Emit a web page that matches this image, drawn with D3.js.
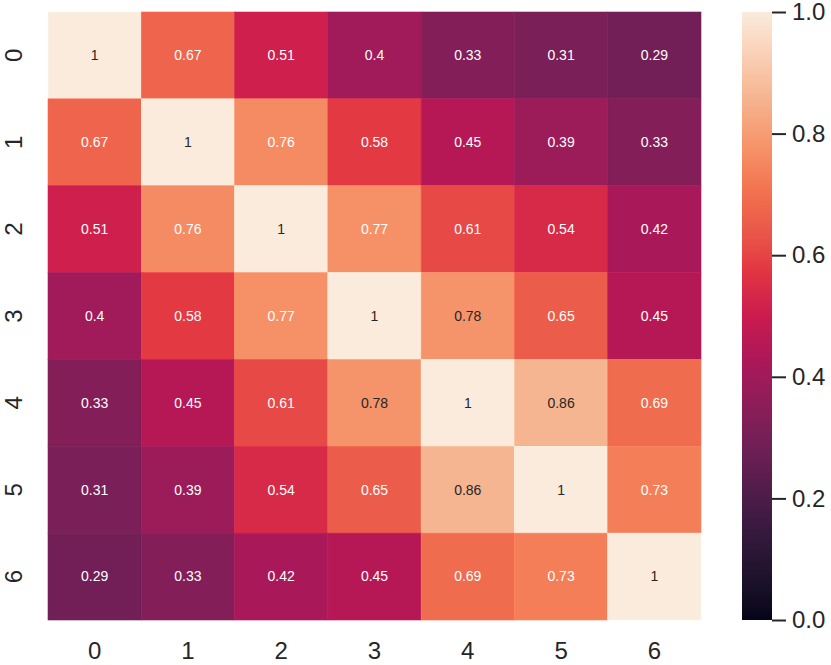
<!DOCTYPE html>
<html>
<head>
<meta charset="utf-8">
<script src="https://cdn.jsdelivr.net/npm/d3@7"></script>
<style>
body { margin: 0; background: #fff; }
svg { font-family: "Liberation Sans", Arial, sans-serif; }
</style>
</head>
<body>
<div class="chart"></div>
<script>
var labels = ["0", "1", "2", "3", "4", "5", "6"];
var row0 = [1, 0.67, 0.51, 0.4, 0.33, 0.31, 0.29];
var row1 = [0.67, 1, 0.76, 0.58, 0.45, 0.39, 0.33];
var row2 = [0.51, 0.76, 1, 0.77, 0.61, 0.54, 0.42];
var row3 = [0.4, 0.58, 0.77, 1, 0.78, 0.65, 0.45];
var row4 = [0.33, 0.45, 0.61, 0.78, 1, 0.86, 0.69];
var row5 = [0.31, 0.39, 0.54, 0.65, 0.86, 1, 0.73];
var row6 = [0.29, 0.33, 0.42, 0.45, 0.69, 0.73, 1];
var rows = [row0, row1, row2, row3, row4, row5, row6];
var cbarTicks = [0, 0.2, 0.4, 0.6, 0.8, 1.0];

// rocket colormap, sampled
var rocketStops = [0, 0.143, 0.286, 0.429, 0.5, 0.571, 0.714, 0.78, 0.857, 1];
var rocketColors = ["#03051a", "#35193e", "#701f57", "#ad1759", "#cb1b4f", "#e13342", "#f37651", "#f5946b", "#f6b48f", "#faebdd"];

var color = d3.scaleLinear().domain(rocketStops).range(rocketColors).interpolate(d3.interpolateLab).clamp(true);

function lum(c) {
	var rgb = d3.rgb(c);
	var f = function(v) { v = v / 255; return v <= 0.03928 ? v / 12.92 : Math.pow((v + 0.055) / 1.055, 2.4); };
	return 0.2126 * f(rgb.r) + 0.7152 * f(rgb.g) + 0.0722 * f(rgb.b);
}

var cells = [];
rows.forEach(function(r, i) {
	r.forEach(function(v, j) { cells.push({row: labels[i], col: labels[j], v: v}); });
});

var svg = d3.select(".chart").append("svg").attr("width", 831).attr("height", 665);

var x = d3.scaleBand().domain(labels).range([48, 701]);
var y = d3.scaleBand().domain(labels).range([12, 620]);

svg.append("g").selectAll("rect").data(cells).enter().append("rect")
	.attr("x", function(d) { return x(d.col); })
	.attr("y", function(d) { return y(d.row); })
	.attr("width", x.bandwidth())
	.attr("height", y.bandwidth())
	.attr("fill", function(d) { return color(d.v); })
	.attr("stroke", function(d) { return d3.rgb(color(d.v)).brighter(0.15); })
	.attr("stroke-width", 0.6);

svg.append("g").selectAll("text").data(cells).enter().append("text")
	.attr("x", function(d) { return x(d.col) + x.bandwidth() / 2; })
	.attr("y", function(d) { return y(d.row) + y.bandwidth() / 2; })
	.attr("text-anchor", "middle")
	.attr("dy", "0.35em")
	.attr("font-size", "14px")
	.attr("fill", function(d) { return lum(color(d.v)) > 0.408 ? "#262626" : "#ffffff"; })
	.text(function(d) { return String(d.v); });

// axes
var xAxis = svg.append("g").attr("transform", "translate(0,620)")
	.call(d3.axisBottom(x).tickSize(0).tickPadding(22));
var yAxis = svg.append("g").attr("transform", "translate(48,0)")
	.call(d3.axisLeft(y).tickSize(0));
xAxis.select(".domain").remove();
yAxis.select(".domain").remove();
xAxis.selectAll("text").attr("font-size", "24px").attr("fill", "#262626").attr("font-family", "Liberation Sans, Arial, sans-serif");
yAxis.selectAll("text").attr("font-size", "24px").attr("fill", "#262626").attr("font-family", "Liberation Sans, Arial, sans-serif")
	.attr("text-anchor", "middle").attr("x", 0).attr("dy", 0)
	.attr("transform", "translate(-35,0) rotate(-90)")
	.attr("dominant-baseline", "central");

// colorbar
var cy = d3.scaleLinear().domain([0, 1]).range([620, 12]);
var grad = svg.append("defs").append("linearGradient").attr("id", "rocket")
	.attr("x1", 0).attr("y1", 1).attr("x2", 0).attr("y2", 0);
grad.selectAll("stop").data(d3.range(0, 1.0001, 0.01)).enter().append("stop")
	.attr("offset", function(d) { return d; })
	.attr("stop-color", function(d) { return color(d); });

svg.append("rect").attr("x", 742).attr("y", cy(1)).attr("width", 30).attr("height", cy(0) - cy(1))
	.attr("fill", "url(#rocket)");

var cAxis = svg.append("g").attr("transform", "translate(772,0)")
	.call(d3.axisRight(cy).tickValues(cbarTicks).tickFormat(d3.format(".1f")).tickSize(14).tickPadding(6));
cAxis.select(".domain").remove();
cAxis.selectAll("line").attr("stroke", "#262626").attr("stroke-width", 2);
cAxis.selectAll("text").attr("font-size", "24px").attr("fill", "#262626").attr("font-family", "Liberation Sans, Arial, sans-serif");
</script>
</body>
</html>
